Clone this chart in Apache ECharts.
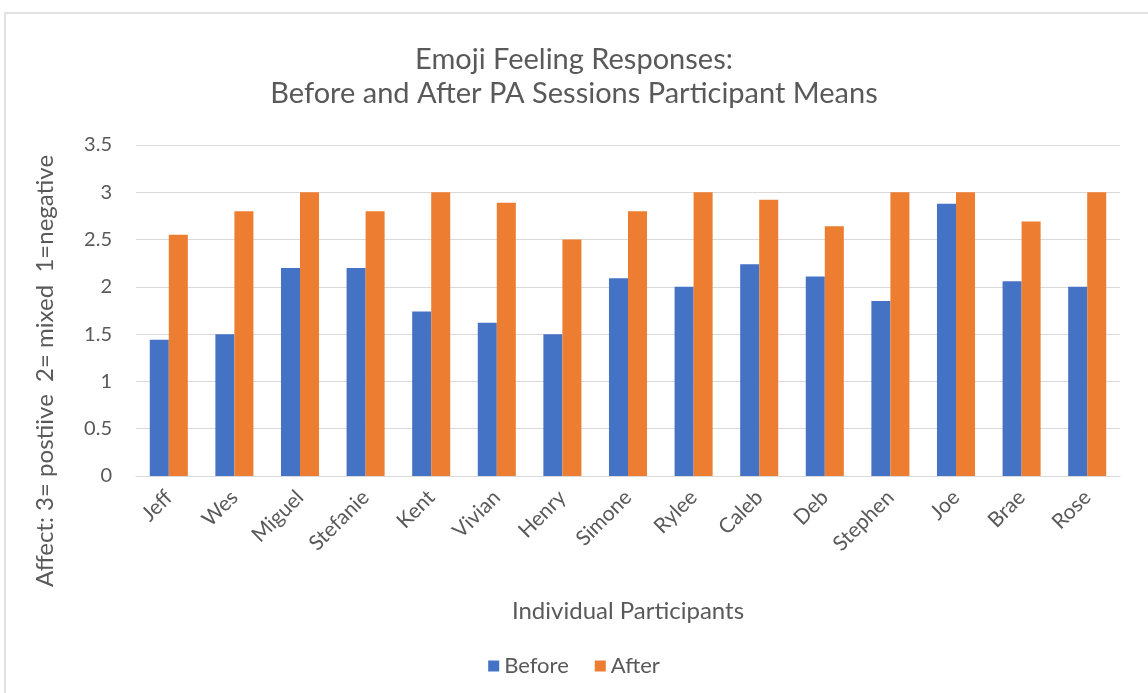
<!DOCTYPE html>
<html>
<head>
<meta charset="utf-8">
<title>Emoji Feeling Responses</title>
<script src="https://cdn.jsdelivr.net/npm/echarts@6/dist/echarts.min.js"></script>
<style>
  html, body { margin: 0; padding: 0; background: #fff; }
  #frame {
    position: absolute; left: 4px; top: 12px; width: 1160px; height: 700px;
    border-top: 2px solid #e2e2e2; border-left: 2px solid #e2e2e2;
  }
  #chart { position: absolute; left: 0; top: 0; width: 1148px; height: 693px; }
</style>
</head>
<body>
<div id="frame"></div>
<div id="chart"></div>
<script>
// participants on the x axis
var participants = ['Jeff', 'Wes', 'Miguel', 'Stefanie', 'Kent', 'Vivian', 'Henry', 'Simone',
  'Rylee', 'Caleb', 'Deb', 'Stephen', 'Joe', 'Brae', 'Rose']
// mean affect before / after PA sessions
var before = [1.44, 1.5, 2.2, 2.2, 1.74, 1.62, 1.5, 2.09, 2.0, 2.24, 2.11, 1.85, 2.88, 2.06, 2.0]
var after = [2.55, 2.8, 3.0, 2.8, 3.0, 2.89, 2.5, 2.8, 3.0, 2.92, 2.64, 3.0, 3.0, 2.69, 3.0]

var textColor = '#595959'
var fontFamily = 'Lato, "Open Sans", sans-serif'

function titleStyle() {
  return { color: textColor, fontSize: 29, fontWeight: 'normal', fontFamily: fontFamily }
}

var chart = echarts.init(document.getElementById('chart'))
chart.setOption({
  animation: false,
  textStyle: { fontFamily: fontFamily },
  title: [
    { text: 'Emoji Feeling Responses:', left: 'center', top: 40, textStyle: titleStyle() },
    { text: 'Before and After PA Sessions Participant Means', left: 'center', top: 74, textStyle: titleStyle() }
  ],
  // y axis title is centred on the whole plot block in the original, not on the grid
  graphic: [{
    type: 'text',
    x: 45,
    y: 371,
    rotation: Math.PI / 2,
    style: {
      text: 'Affect: 3= postiive  2= mixed  1=negative',
      fill: textColor,
      font: '24px ' + fontFamily,
      textAlign: 'center',
      textVerticalAlign: 'middle'
    }
  }],
  grid: {
    left: 136,
    right: 28,
    top: 145,
    bottom: 217
  },
  legend: {
    data: ['Before', 'After'],
    top: 650,
    left: 'center',
    itemWidth: 11,
    itemHeight: 11,
    itemGap: 26,
    icon: 'rect',
    textStyle: { color: textColor, fontSize: 22, fontFamily: fontFamily }
  },
  xAxis: {
    type: 'category',
    data: participants,
    name: 'Individual Participants',
    nameLocation: 'middle',
    nameGap: 123,
    nameTextStyle: { color: textColor, fontSize: 24, fontFamily: fontFamily },
    axisTick: { show: false },
    axisLine: { lineStyle: { color: '#d9d9d9', width: 1 } },
    axisLabel: {
      rotate: 45,
      color: textColor,
      fontSize: 21,
      margin: 18,
      interval: 0,
      fontFamily: fontFamily
    }
  },
  yAxis: {
    type: 'value',
    min: 0,
    max: 3.5,
    interval: 0.5,
    axisLine: { show: false },
    axisTick: { show: false },
    axisLabel: { color: textColor, fontSize: 20, margin: 24, fontFamily: fontFamily },
    splitLine: { lineStyle: { color: '#d9d9d9', width: 1 } }
  },
  series: [
    {
      name: 'Before',
      type: 'bar',
      data: before,
      barGap: '0%',
      barCategoryGap: '42%',
      itemStyle: { color: '#4472c4' }
    },
    {
      name: 'After',
      type: 'bar',
      data: after,
      barGap: '0%',
      barCategoryGap: '42%',
      itemStyle: { color: '#ed7d31' }
    }
  ]
})
</script>
</body>
</html>
